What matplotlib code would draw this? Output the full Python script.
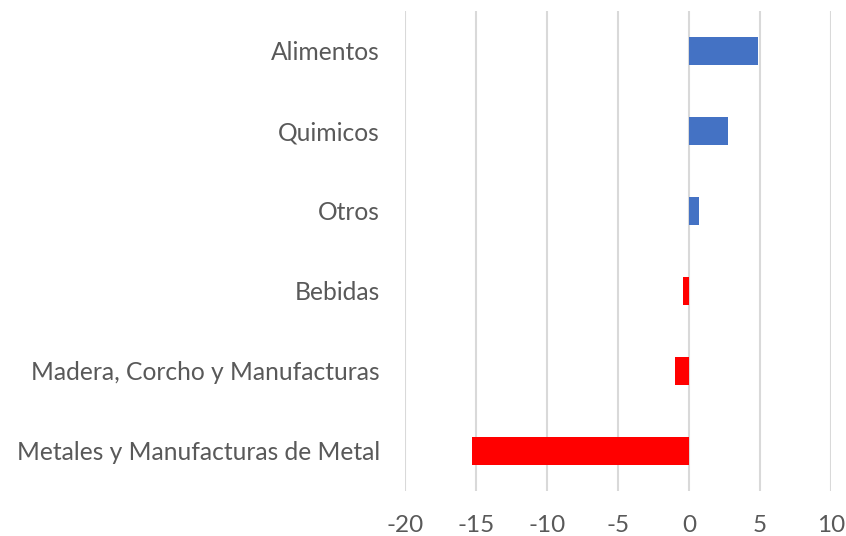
import numpy as np
import matplotlib
matplotlib.use("Agg")
from matplotlib import pyplot as plt

categories = ["Metales y Manufacturas de Metal", "Madera, Corcho y Manufacturas",
              "Bebidas", "Otros", "Quimicos", "Alimentos"]
values = [-15.26, -0.96, -0.40, 0.73, 2.77, 4.86]
xticks = [-20, -15, -10, -5, 0, 5, 10]

plt.rcParams['font.family'] = ['Lato', 'DejaVu Sans']

fig = plt.figure(figsize=(8.46, 5.36), dpi=100)
ax = fig.add_axes([405/846, 45/536, 426/846, 480/536])

colors = ["#4472C4" if v > 0 else "#FF0000" for v in values]
y = np.arange(len(categories))
ax.barh(y, values, height=0.36, color=colors, zorder=3)

ax.set_xlim(-20, 10)
ax.set_ylim(-0.5, len(categories) - 0.5)
ax.set_xticks(xticks)
ax.set_xticklabels([str(t) for t in xticks])
ax.set_yticks(y)
ax.set_yticklabels(categories)

ax.grid(axis="x", color="#D9D9D9", linewidth=1.5, zorder=0)
for s in ax.spines.values():
    s.set_visible(False)
ax.tick_params(axis="both", length=0, colors="#595959")
ax.tick_params(axis="y", pad=18, labelsize=17.7)
ax.tick_params(axis="x", pad=17, labelsize=17.5)

fig.savefig("out.png", dpi=100)
